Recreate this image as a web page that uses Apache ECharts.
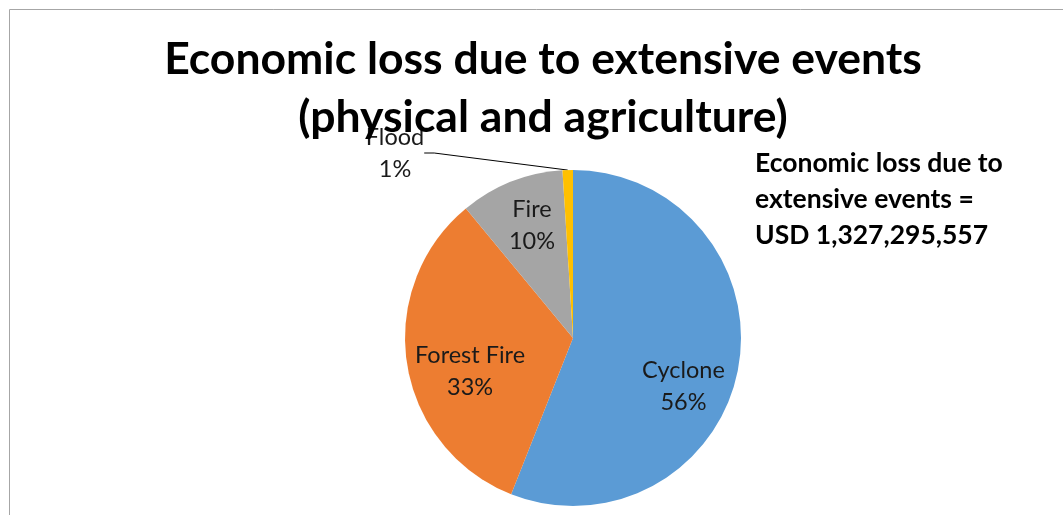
<!DOCTYPE html>
<html>
<head>
<meta charset="utf-8">
<script src="https://cdn.jsdelivr.net/npm/echarts@6/dist/echarts.min.js"></script>
<style>
  html, body { margin: 0; padding: 0; background: #fff; }
  #chart { width: 1063px; height: 515px; }
</style>
</head>
<body>
<div id="chart"></div>
<script>
// Share of economic loss by event type (percent)
const categories = ['Cyclone', 'Forest Fire', 'Fire', 'Flood'];
const shares = [56, 33, 10, 1];
const colors = ['#5B9BD5', '#ED7D31', '#A5A5A5', '#FFC000'];
const titleLines = ['Economic loss due to extensive events', '(physical and agriculture)'];
const noteLines = ['Economic loss due to', 'extensive events =', 'USD 1,327,295,557'];

// Nudges that move each slice label from the ECharts "inside" anchor
const labelOffsets = [[25, 32], [-17, 20], [-9, -32], [0, 0]];

const chart = echarts.init(document.getElementById('chart'), null, { renderer: 'canvas' });

const data = categories.map((name, i) => {
  const item = {
    name: name,
    value: shares[i],
    itemStyle: { color: colors[i] },
    label: { offset: labelOffsets[i] }
  };
  if (name === 'Flood') {
    item.label = { position: 'outside', show: true };
    item.labelLine = { show: true, length: 10, length2: 10, lineStyle: { color: '#000', width: 1 } };
  }
  return item;
});

chart.setOption({
  animation: false,
  backgroundColor: '#fff',
  graphic: [
    {
      type: 'rect',
      shape: { x: 9.5, y: 9.5, width: 1200, height: 700 },
      style: { fill: 'none', stroke: '#a6a6a6', lineWidth: 1 },
      silent: true
    },
    {
      type: 'text',
      left: 755, top: 145,
      z: 10,
      style: {
        text: noteLines.join('\n'),
        font: 'bold 26.5px Lato, "Open Sans", sans-serif',
        lineHeight: 36,
        fill: '#000'
      }
    }
  ],
  title: {
    text: titleLines.join('\n'),
    left: 538,
    textAlign: 'center',
    top: 26,
    z: 10,
    textStyle: {
      fontFamily: 'Lato, "Open Sans", sans-serif',
      fontWeight: 'bold',
      fontSize: 44.5,
      lineHeight: 58,
      color: '#000'
    }
  },
  series: [{
    type: 'pie',
    z: 2,
    center: [573, 338],
    radius: [0, 168],
    startAngle: 90,
    clockwise: true,
    data: data,
    label: {
      show: true,
      position: 'inside',
      formatter: p => p.name + '\n' + p.value + '%',
      fontFamily: 'Lato, "Open Sans", sans-serif',
      fontSize: 23.5,
      lineHeight: 32,
      color: '#1a1a1a',
      align: 'center'
    },
    labelLine: { show: false },
    labelLayout: function (params) {
      if (params.dataIndex === 3) {
        return { x: 395, y: 153, align: 'center', verticalAlign: 'middle' };
      }
    },
    emphasis: { disabled: true }
  }]
});
</script>
</body>
</html>
